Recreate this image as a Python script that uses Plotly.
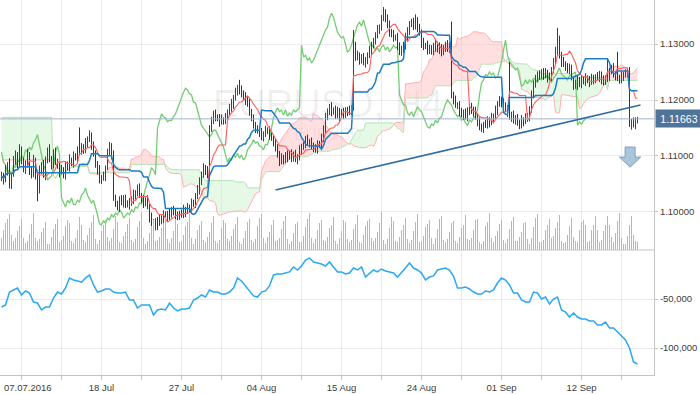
import plotly.graph_objects as go

# ---------------- data (prices in pips, 1 pip = 0.0001) ----------------
OPEN0 = 11060
CLOSE = [
    11066,11057,11075,11084,11048,11066,11093,11102,11084,11111,
    11093,11075,11084,11102,11075,11066,11093,11066,11039,11075,
    11084,11066,11093,11111,11093,11084,11107,11089,11084,11071,
    11075,11066,11084,11079,11093,11088,11100,11096,11111,11107,
    11116,11111,11123,11129,11138,11120,11105,11084,11075,11057,
    11061,11064,11079,11107,11118,11102,11025,11016,11009,11021,
    11016,11025,11013,11013,11021,11018,11030,11034,11043,11030,
    11023,11016,11021,11009,10995,10979,10977,10984,10980,10989,
    10986,10995,10991,10998,10995,11004,11000,10989,10993,10998,
    10995,11004,11000,11009,11007,11016,11014,11029,11039,11055,
    11066,11079,11075,11066,11150,11161,11175,11170,11168,11161,
    11164,11163,11171,11175,11186,11193,11204,11214,11221,11218,
    11211,11209,11196,11195,11180,11166,11155,11150,11145,11141,
    11134,11138,11146,11146,11138,11132,11123,11116,11102,11089,
    11096,11093,11102,11098,11105,11096,11102,11093,11098,11111,
    11116,11121,11129,11123,11125,11118,11116,11111,11121,11120,
    11132,11150,11168,11179,11186,11179,11182,11173,11182,11171,
    11177,11173,11182,11179,11182,11186,11298,11277,11280,11271,
    11275,11266,11271,11280,11289,11298,11307,11314,11325,11330,
    11346,11355,11348,11334,11321,11316,11311,11313,11298,11286,
    11289,11298,11311,11325,11334,11339,11332,11343,11329,11320,
    11302,11295,11298,11289,11293,11286,11295,11298,11289,11295,
    11286,11291,11298,11293,11295,11209,11200,11191,11191,11177,
    11173,11179,11170,11179,11188,11182,11179,11170,11161,11152,
    11150,11157,11155,11164,11159,11168,11170,11182,11193,11200,
    11195,11191,11182,11177,11170,11173,11164,11168,11159,11155,
    11164,11161,11168,11171,11182,11209,11230,11236,11245,11243,
    11250,11245,11248,11239,11241,11254,11268,11289,11307,11280,
    11268,11264,11259,11254,11257,11239,11225,11227,11236,11229,
    11236,11232,11239,11236,11232,11239,11236,11241,11239,11245,
    11236,11232,11239,11243,11250,11257,11246,11243,11239,11236,
    11243,11245,11248,11250,11155,11161,11157,11163,11166,
]
UPPER_WICK = [
    6,4,9,5,12,3,7,8,5,10,6,4,8,11,5,7,9,4,6,8,
    5,9,6,4,10,7,5,8,6,4,9,5,7,6,10,4,8,5,6,40,
    7,5,9,6,8,4,6,5,7,9,5,8,4,6,7,5,8,6,4,7,
    9,5,6,8,4,7,10,5,6,8,4,7,5,9,6,4,8,5,7,6,
    5,8,6,4,9,5,7,6,8,4,6,9,5,7,4,8,6,5,9,7,
    6,8,5,7,5,9,6,8,4,7,10,5,6,8,7,9,5,8,6,15,
    8,6,5,9,7,4,8,6,5,7,9,6,8,5,7,4,6,8,5,7,
    9,6,5,8,4,7,6,9,5,8,6,4,7,9,5,8,6,5,7,6,
    8,5,9,6,7,10,5,8,6,4,7,9,5,6,8,5,27,6,8,5,
    7,9,6,5,8,6,4,7,9,5,6,11,7,5,8,6,9,4,7,5,
    8,6,9,5,7,6,8,10,5,7,6,9,4,8,6,5,7,9,6,8,
    5,7,6,9,8,45,6,8,5,7,9,4,6,8,5,7,6,9,5,8,
    6,4,8,7,5,9,6,8,5,7,6,8,5,9,91,6,8,5,7,6,
    9,5,8,6,7,8,5,9,6,8,5,7,9,6,8,5,7,6,22,8,
    6,9,5,7,8,6,4,9,7,5,8,6,9,5,7,8,6,5,9,7,
    6,8,5,32,7,6,9,5,43,6,8,5,7,6,9,5,8,6,4,
]
LOWER_WICK = [
    5,8,4,10,6,7,3,9,6,5,8,4,7,5,9,6,4,8,20,6,
    7,5,9,6,4,8,6,5,7,9,4,6,8,5,7,6,9,4,8,6,
    5,7,6,8,4,9,6,5,8,6,7,5,9,4,6,8,5,7,6,9,
    4,8,6,5,9,7,4,8,6,5,7,9,6,4,14,12,16,10,12,5,
    8,6,4,7,9,5,6,8,4,7,5,6,9,4,8,6,5,7,6,8,
    7,5,9,6,10,7,4,8,6,9,5,7,6,8,4,7,9,5,6,8,
    6,9,5,7,8,4,6,9,5,7,6,8,4,7,9,5,6,8,5,7,
    4,8,6,9,5,7,6,4,8,6,9,5,7,4,8,6,9,5,7,6,
    5,7,9,4,6,8,5,7,6,9,4,7,5,8,6,9,5,7,6,8,
    6,4,8,7,5,9,6,8,4,7,6,5,9,6,8,4,7,5,9,6,
    7,5,8,6,9,4,7,6,8,5,9,6,4,8,7,5,6,9,4,7,
    8,6,5,7,9,6,8,5,7,6,4,9,5,8,6,7,9,5,8,6,
    7,9,5,6,8,4,7,6,9,5,8,6,4,7,5,9,6,8,5,7,
    6,8,4,7,9,5,6,8,4,7,5,9,6,8,4,7,6,5,8,6,
    9,5,7,6,8,4,7,5,9,6,8,4,7,6,9,5,8,6,4,7,
    8,6,5,7,9,4,6,8,5,7,6,9,5,7,3,8,6,9,5,
]
VOLUME = [
    12,20,27,31,36,15, 9,12,19,24,31,12,
    7,9,16,26,37,12, 9,11,18,22,28,6,
    6,13,21,26,31,8, 10,14,24,30,27,9,
    7,12,20,33,25,10, 8,15,22,28,35,11,
    6,10,19,25,30,13, 9,12,21,34,28,8,
    7,14,18,26,32,10, 8,11,23,29,38,12,
    6,9,17,24,30,9, 10,13,22,27,33,11,
    7,12,19,31,26,8, 9,15,24,28,36,12,
    6,11,20,25,29,10, 8,13,18,27,34,9,
    7,10,22,30,27,11, 9,14,21,26,33,8,
    6,12,19,28,31,10, 8,11,24,32,36,12,
    7,13,18,25,30,9, 10,12,21,29,34,11,
    6,9,17,26,28,8, 8,14,23,31,37,12,
    7,11,20,27,30,10, 9,13,22,25,33,9,
    6,12,19,30,28,11, 8,10,21,26,35,8,
    7,15,24,29,31,12, 9,12,18,27,38,10,
    6,11,22,33,29,9, 8,13,20,25,32,11,
    7,10,19,28,36,8, 9,14,23,26,30,12,
    6,12,21,31,34,10, 8,11,18,27,29,9,
    7,13,22,25,35,11, 10,12,20,30,31,8,
    6,9,24,28,37,12, 8,14,19,26,30,10,
    7,11,21,29,33,9, 9,13,18,27,28,11,
    6,12,23,32,36,8, 8,10,20,25,31,12,
    14,22,28,35,
    9,7,8,15,24,32,13,9,8,20,28,30,25,8,9,20,25,34,20,8,
    10,19,25,34,25,13,8,17,29,37,12,6,6,14,25,34,15,9,8,
]
FLOW = [
    -58200,-56100,-42900,-40800,-38800,-45900,-41800,-43900,-53100,-54100,
    -61200,-58200,-58200,-49000,-42900,-44900,-38800,-28600,-30600,-31600,
    -32700,-28600,-25500,-35700,-42900,-41800,-39800,-39800,-42900,-43900,
    -43900,-42900,-51000,-51000,-59200,-56100,-56100,-56100,-66300,-61200,
    -60200,-61200,-54100,-59200,-62200,-60200,-60200,-59200,-51000,-49000,
    -45900,-48000,-40800,-42900,-42900,-44900,-44900,-42900,-38800,-28600,
    -31600,-36700,-42900,-46900,-48000,-42900,-41800,-36700,-25500,-24500,
    -24500,-23500,-22400,-17300,-20400,-16300,-10200,-8200,-12200,-13300,
    -14300,-16300,-12200,-17300,-22400,-22400,-24500,-23500,-18400,-20400,
    -17300,-27600,-23500,-20400,-22400,-19400,-21400,-22400,-23500,-27600,
    -22400,-18400,-13300,-18400,-20400,-23500,-30600,-27600,-26500,-20400,
    -19400,-18400,-20400,-26500,-38800,-38800,-37800,-39800,-42900,-44900,
    -44900,-41800,-42900,-40800,-33700,-28600,-30600,-35700,-43900,-43900,
    -51000,-53100,-53100,-42900,-43900,-50000,-48000,-55100,-50000,-48000,
    -61200,-63300,-68400,-64300,-68400,-70400,-70400,-72400,-72400,-76500,
    -76500,-73500,-79600,-79600,-83700,-87800,-91800,-100000,-114300,-116300,
]
SPAN_A_LEAD = [11093] * 26
SPAN_B_LEAD = [11169] * 26
X_LABEL_BARS = [10, 50, 90, 130, 170, 210, 250, 290]
X_LABELS = ["07.07.2016", "18 Jul", "27 Jul", "04 Aug", "15 Aug", "24 Aug", "01 Sep", "12 Sep"]
PRICE_TICKS = [1.10, 1.11, 1.12, 1.13]
FLOW_TICKS = [-50000, -100000]
FLOW_TICKTEXT = ["-50,000", "-100,000"]
LAST_PRICE = 1.11663
TREND_LINE = [(137, 1.10393), (319.5, 1.11911)]

# ---------------- derived ----------------
PIP = 10000.0
n = len(CLOSE)
idx = list(range(n))
opens = [OPEN0] + CLOSE[:-1]
highs = [max(o, c) + u for o, c, u in zip(opens, CLOSE, UPPER_WICK)]
lows = [min(o, c) - d for o, c, d in zip(opens, CLOSE, LOWER_WICK)]
O = [v / PIP for v in opens]
C = [v / PIP for v in CLOSE]
Hh = [v / PIP for v in highs]
Ll = [v / PIP for v in lows]


def mid(i, w):
    lo = max(0, i - w + 1)
    return (max(Hh[lo:i + 1]) + min(Ll[lo:i + 1])) / 2


tenkan = [mid(i, 9) for i in idx]
kijun = [mid(i, 26) for i in idx]
spanA, spanB = [], []
for i in idx:
    if i < 26:
        spanA.append(SPAN_A_LEAD[i] / PIP)
        spanB.append(SPAN_B_LEAD[i] / PIP)
    else:
        spanA.append((tenkan[i - 26] + kijun[i - 26]) / 2)
        spanB.append(mid(i - 26, 52))


def cloud_polys(a, b):
    polys = {True: ([], []), False: ([], [])}
    cx, ca, cb = [0], [a[0]], [b[0]]
    sign = a[0] >= b[0]

    def flush(s, xs, ya, yb):
        px, py = polys[s]
        if px:
            px.append(None); py.append(None)
        px.extend(xs + xs[::-1]); py.extend(ya + yb[::-1])

    for i in range(1, len(a)):
        s = a[i] >= b[i]
        if s != sign:
            d0 = a[i - 1] - b[i - 1]
            d1 = a[i] - b[i]
            t = d0 / (d0 - d1)
            xc = i - 1 + t
            yc = a[i - 1] + t * (a[i] - a[i - 1])
            cx.append(xc); ca.append(yc); cb.append(yc)
            flush(sign, cx, ca, cb)
            cx, ca, cb = [xc], [yc], [yc]
            sign = s
        cx.append(i); ca.append(a[i]); cb.append(b[i])
    flush(sign, cx, ca, cb)
    return polys


polys = cloud_polys(spanA, spanB)


def segments(xs, y0s, y1s):
    sx, sy = [], []
    for x, a, b in zip(xs, y0s, y1s):
        sx += [x, x, None]
        sy += [a, b, None]
    return sx, sy


FONT = "Liberation Sans, Arial, sans-serif"
fig = go.Figure()

# watermark
fig.add_trace(go.Scatter(x=[163.3], y=[1.1187], mode="text", text=["EURUSD, H4"],
                         textfont=dict(size=38, color="rgba(0,0,0,0.065)", family=FONT),
                         hoverinfo="skip", cliponaxis=False))
fig.add_trace(go.Scatter(x=[163.3], y=[1.1135], mode="text", text=["EURUSD"],
                         textfont=dict(size=16, color="rgba(0,0,0,0.065)", family=FONT),
                         hoverinfo="skip"))

# volume (thin vertical bars)
vx, vy = segments(idx, [0] * n, VOLUME)
fig.add_trace(go.Scatter(x=vx, y=vy, yaxis="y3", mode="lines",
                         line=dict(color="#86c5ec", width=1), hoverinfo="skip"))

# cloud (pink when span A is above span B, green otherwise)
fig.add_trace(go.Scatter(x=polys[True][0], y=polys[True][1], fill="toself", mode="none",
                         fillcolor="rgba(255,185,185,0.45)", hoverinfo="skip"))
fig.add_trace(go.Scatter(x=polys[False][0], y=polys[False][1], fill="toself", mode="none",
                         fillcolor="rgba(200,240,200,0.45)", hoverinfo="skip"))
fig.add_trace(go.Scatter(x=idx, y=spanA, mode="lines", line=dict(color="#ffb0b0", width=1), hoverinfo="skip"))
fig.add_trace(go.Scatter(x=idx, y=spanB, mode="lines", line=dict(color="#b5e3b5", width=1), hoverinfo="skip"))

# chikou
fig.add_trace(go.Scatter(x=idx[:n - 26], y=C[26:], mode="lines",
                         line=dict(color="#74cc74", width=1.3), hoverinfo="skip"))

# price bars (high-low lines, coloured by direction)
up = [i for i in idx if C[i] >= O[i]]
dn = [i for i in idx if C[i] < O[i]]
ux, uy = segments(up, [Ll[i] for i in up], [Hh[i] for i in up])
dx, dy = segments(dn, [Ll[i] for i in dn], [Hh[i] for i in dn])
fig.add_trace(go.Scatter(x=ux, y=uy, mode="lines", line=dict(color="#1d5c1d", width=1), hoverinfo="skip"))
fig.add_trace(go.Scatter(x=dx, y=dy, mode="lines", line=dict(color="#6c1f1f", width=1), hoverinfo="skip"))

# tenkan / kijun
fig.add_trace(go.Scatter(x=idx, y=tenkan, mode="lines", line=dict(color="#ff5c5c", width=1.1), hoverinfo="skip"))
fig.add_trace(go.Scatter(x=idx, y=kijun, mode="lines", line=dict(color="#1c7cc4", width=1.5), hoverinfo="skip"))

# lower indicator
fig.add_trace(go.Scatter(x=idx[::2], y=FLOW, yaxis="y2", mode="lines",
                         line=dict(color="#2aa8f0", width=1.5), hoverinfo="skip"))

AX = "#c4c4c4"
GRID = "#ebebeb"
TICKF = dict(family=FONT, size=9.5, color="#3c3c3c")
grid_vals = list(range(10, 327, 20))
grid_text = []
for v in grid_vals:
    if v in X_LABEL_BARS and v != X_LABEL_BARS[0]:
        grid_text.append(X_LABELS[X_LABEL_BARS.index(v)])
    else:
        grid_text.append("")

split = 125 / 375
fig.update_layout(
    width=700, height=394, margin=dict(l=0, r=46, t=0, b=19),
    paper_bgcolor="white", plot_bgcolor="white", showlegend=False, template="none",
    xaxis=dict(domain=[0, 1], range=[-0.75, 326.25], anchor="y2", tickvals=grid_vals, ticktext=grid_text,
               showgrid=True, gridcolor=GRID, gridwidth=1, zeroline=False, showline=True, linecolor=AX,
               ticks="outside", ticklen=4, tickcolor=AX, tickfont=TICKF, automargin=False),
    yaxis=dict(domain=[split, 1], range=[1.09321, 1.13786], anchor="x", side="right",
               tickvals=PRICE_TICKS, tickformat=".5f", showgrid=True, gridcolor=GRID, zeroline=False,
               showline=True, linecolor=AX, ticks="outside", ticklen=3, tickcolor=AX, tickfont=TICKF,
               automargin=False),
    yaxis2=dict(domain=[0, split], range=[-127550, 0], anchor="x", side="right",
                tickvals=FLOW_TICKS, ticktext=FLOW_TICKTEXT, showgrid=True, gridcolor=GRID, zeroline=False,
                showline=True, linecolor=AX, ticks="outside", ticklen=3, tickcolor=AX, tickfont=TICKF,
                automargin=False),
    yaxis3=dict(overlaying="y", range=[0, 250], visible=False, fixedrange=True),
)

(tx0, ty0), (tx1, ty1) = TREND_LINE
fig.update_layout(
    shapes=[
        dict(type="line", xref="paper", yref="paper", x0=0, x1=1, y0=split, y1=split,
             line=dict(color=AX, width=1)),
        dict(type="line", xref="paper", yref="y", x0=0, x1=1, y0=LAST_PRICE, y1=LAST_PRICE,
             line=dict(color="#9fb3cc", width=1)),
        dict(type="line", xref="x", yref="y", x0=tx0, y0=ty0, x1=tx1, y1=ty1,
             line=dict(color="#2e6b9e", width=1.6)),
        dict(type="path", xref="x", yref="y",
             path="M 311.8 1.1116 L 316.8 1.1116 L 316.8 1.1098 L 319.6 1.1098 L 314.3 1.1080 "
                  "L 309 1.1098 L 311.8 1.1098 Z",
             fillcolor="#a9c5da", line=dict(color="#7ca1bf", width=1)),
    ],
    annotations=[
        dict(x=1, xref="paper", y=LAST_PRICE, yref="y", xanchor="left", xshift=1, text="1.11663",
             showarrow=False, bgcolor="#4f7499", font=dict(family=FONT, size=10.5, color="white"),
             width=44, height=15, align="center"),
        dict(x=0, xref="paper", y=0, yref="paper", xanchor="left", yanchor="top", xshift=2, yshift=-5,
             text=X_LABELS[0], showarrow=False, font=TICKF),
    ],
)

fig.write_html("out.html")
